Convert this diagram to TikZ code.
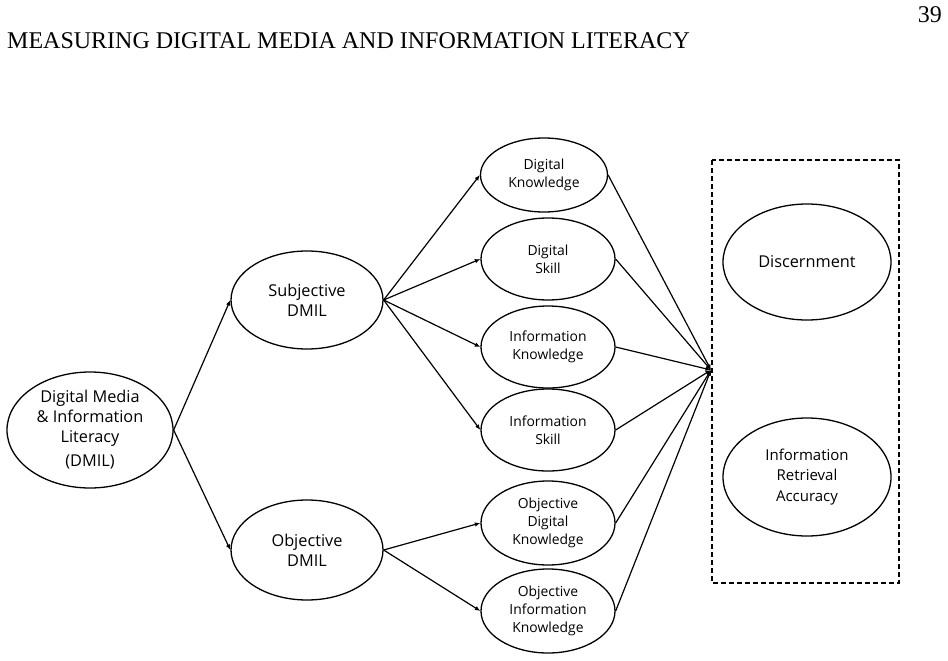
\documentclass[tikz,border=0pt]{standalone}
\usepackage{fontspec}
\setmainfont{Liberation Serif}
\newfontfamily\diagfont{Open Sans}
\usetikzlibrary{arrows.meta,shapes.geometric}

\begin{document}
\begin{tikzpicture}[x=1pt,y=-1pt,
    latent/.style={ellipse,draw,line width=1.3pt,inner sep=0pt,align=center},
    bigtxt/.style={font=\diagfont\fontsize{16.3}{20}\selectfont},
    midtxt/.style={font=\diagfont\fontsize{15}{20.5}\selectfont},
    smalltxt/.style={font=\diagfont\fontsize{13.9}{18}\selectfont},
    conn/.style={line width=1.2pt,-{Latex[length=5.5pt,width=4.5pt]}}]
    \useasboundingbox (0,0) rectangle (948,661);
    % running head
    \node[anchor=base west,inner sep=0pt,font=\fontsize{24}{28}\selectfont] (head) at (7,49) {MEASURING DIGITAL MEDIA AND INFORMATION LITERACY};
    \node[anchor=base east,inner sep=0pt,font=\fontsize{24}{28}\selectfont] (pagenum) at (942,23) {39};
    % second-order factor
    \node[latent,bigtxt,minimum width=166,minimum height=116] (dmil) at (90,430) {Digital Media\\ \& Information\\ Literacy\\[4pt] (DMIL)};
    % first-order factors
    \node[latent,bigtxt,minimum width=152,minimum height=98] (subj) at (307,300) {Subjective\\ DMIL};
    \node[latent,bigtxt,minimum width=152,minimum height=100] (obj) at (307,550) {Objective\\ DMIL};
    % indicators
    \node[latent,smalltxt,minimum width=127,minimum height=74] (dk) at (544,175) {Digital\\ Knowledge};
    \node[latent,smalltxt,minimum width=134,minimum height=82] (ds) at (548,259) {Digital\\ Skill};
    \node[latent,smalltxt,minimum width=134,minimum height=82] (ik) at (548,347) {Information\\ Knowledge};
    \node[latent,smalltxt,minimum width=134,minimum height=82] (is) at (548,430) {Information\\ Skill};
    \node[latent,smalltxt,minimum width=134,minimum height=84] (odk) at (548,523) {Objective\\ Digital\\ Knowledge};
    \node[latent,smalltxt,minimum width=134,minimum height=84] (oik) at (548,611) {Objective\\ Information\\ Knowledge};
    % outcomes
    \draw[line width=1.3pt,dash pattern=on 5pt off 3pt] (712,160) rectangle (899,583);
    \node[latent,bigtxt,minimum width=168,minimum height=116] (disc) at (807,262) {Discernment};
    \node[latent,midtxt,minimum width=168,minimum height=118] (ira) at (807,477) {Information\\ Retrieval\\ Accuracy};
    \coordinate (hub) at (711,370);
    % paths
    \draw[conn] (dmil.east) -- (subj.west);
    \draw[conn] (dmil.east) -- (obj.west);
    \foreach \t in {dk,ds,ik,is}
        \draw[conn] (subj.east) -- (\t.west);
    \foreach \t in {odk,oik}
        \draw[conn] (obj.east) -- (\t.west);
    \foreach \s in {dk,ds,ik,is,odk,oik}
        \draw[conn] (\s.east) -- (hub);
\end{tikzpicture}
\end{document}
